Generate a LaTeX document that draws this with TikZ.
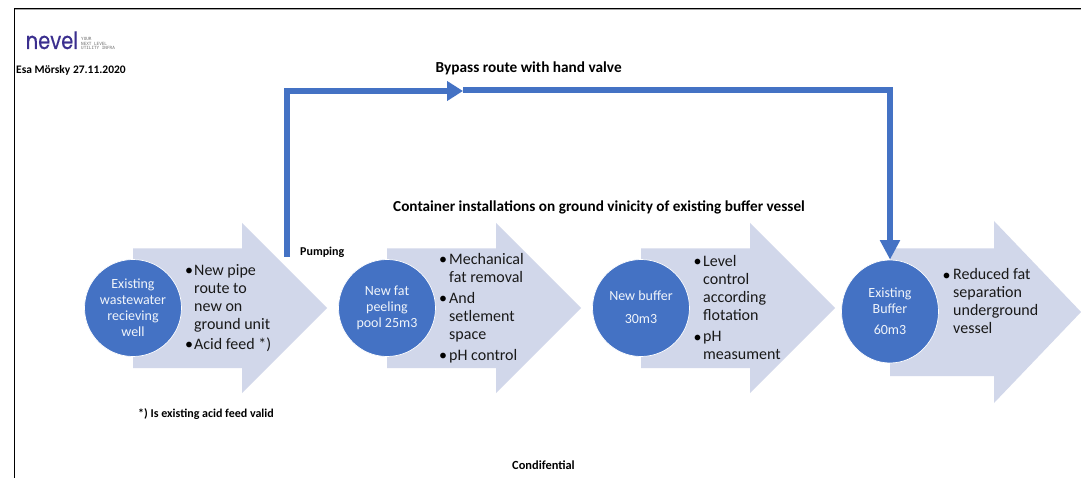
\documentclass[tikz,border=0pt]{standalone}
\usepackage{fontspec}
\setmainfont{Carlito}
\newfontfamily\logofont[FakeBold=0.5]{Poppins}
\newfontfamily\tagfont{DejaVu Sans Mono}
\usetikzlibrary{arrows.meta,shapes.geometric}
\definecolor{blueA}{HTML}{4472C4}
\definecolor{paleA}{HTML}{D1D7EA}
\definecolor{logoA}{HTML}{3B2F8F}
\tikzset{
  x=1pt,y=-1pt,
  flowarrow/.style={fill=paleA,draw=none},
  stage/.style={circle,fill=blueA,draw=white,line width=0.7pt,minimum size=97pt,inner sep=0pt},
  stagetall/.style={ellipse,fill=blueA,draw=white,line width=0.7pt,minimum width=97pt,minimum height=103pt,inner sep=0pt},
  stagetext/.style={anchor=base,inner sep=0pt,text=white!92!blueA,align=center,font=\fontsize{14}{16}\selectfont},
  bodytext/.style={anchor=base west,inner sep=0pt,align=left,text=black!90,font=\fontsize{16}{18}\selectfont},
  bullettext/.style={anchor=base west,inner sep=0pt,text=black,font=\fontsize{16}{18}\selectfont},
  label/.style={anchor=base west,inner sep=0pt,text=black,font=\bfseries\fontsize{#1}{#1}\selectfont},
  label/.default=10,
  pipe/.style={draw=blueA,line width=6pt,line join=miter},
}
\newcommand{\blockarrow}[8]{% x0 xh xtip ybodytop ybodybot yheadtop yheadbot ymid
  \fill[flowarrow] (#1,#4) -- (#2,#4) -- (#2,#6) -- (#3,#8) -- (#2,#7) -- (#2,#5) -- (#1,#5) -- cycle;
}
\newcommand{\bulletitem}[6]{% name xbullet xtext yfirst ylast text
  \node[bullettext] (#1b) at (#2,#4) {•};
  \node[bodytext] (#1) at (#3,#5) {#6};
}
\begin{document}
\begin{tikzpicture}
\useasboundingbox (0,0) rectangle (1081,478);
\fill[white] (0,0) rectangle (1081,478);
% frame
\draw[black,line width=1pt] (1081,8.7) -- (14,8.7) -- (14,478);
\draw[black!35,line width=0.6pt] (15,9.6) -- (1081,9.6);
% logo
\node[anchor=base west,inner sep=0pt,text=logoA,font=\logofont\fontsize{19.5}{19.5}\selectfont] (logo) at (25.5,49) {\scalebox{1}[1.22]{nevel}};
\node[anchor=north west,inner sep=0pt,align=left,text=black!55,font=\tagfont\fontsize{4.3}{4.7}\selectfont] (tag) at (81,37) {YOUR\\NEXT LEVEL\\UTILITY INFRA};
\node[label=11.5] (author) at (16,74) {Esa Mörsky 27.11.2020};
% block arrows
\blockarrow{133}{242}{327}{248.5}{368}{223}{393}{308}
\blockarrow{387}{496}{581}{248.5}{368}{223}{393}{308}
\blockarrow{641}{750}{835}{248.5}{368}{223}{393}{308}
\blockarrow{890}{994}{1081}{248.5}{376}{221}{403}{312}
% stages
\node[stage] (s1) at (133,308) {};
\node[stage] (s2) at (387,308) {};
\node[stage] (s3) at (641,308) {};
\node[stagetall] (s4) at (890,311.5) {};
\node[stagetext] (t1) at (133,336) {Existing\\wastewater\\recieving\\well};
\node[stagetext] (t2) at (387,327) {New fat\\peeling\\pool 25m3};
\node[stagetext] (t3a) at (641,301) {New buffer};
\node[stagetext] (t3b) at (641,323) {30m3};
\node[stagetext] (t4a) at (890,313) {Existing\\Buffer};
\node[stagetext] (t4b) at (890,334) {60m3};
% bullets
\bulletitem{a1}{185}{194}{275.5}{329}{New pipe\\route to\\new on\\ground unit}
\bulletitem{a2}{185}{194}{349}{349}{Acid feed *)}
\bulletitem{b1}{439}{449}{265}{283}{Mechanical\\fat removal}
\bulletitem{b2}{439}{449}{303}{339}{And\\setlement\\space}
\bulletitem{b3}{439}{449}{360}{360}{pH control}
\bulletitem{c1}{693.5}{703}{267}{320.5}{Level\\control\\according\\flotation}
\bulletitem{c2}{693.5}{703}{342}{359.5}{pH\\measument}
\bulletitem{d1}{942.5}{953}{280}{333.5}{Reduced fat\\separation\\underground\\vessel}
% bypass
\coordinate (pumpstart) at (286.5,257);
\coordinate (bend1) at (286.5,91);
\coordinate (valve) at (463,91);
\coordinate (valveb) at (463,90);
\coordinate (bend2) at (890,90);
\draw[pipe,-{Triangle[length=16pt,width=19pt]}] (pumpstart) -- (bend1) -- (valve);
\draw[pipe,-{Triangle[length=19.5pt,width=19pt]}] (valveb) -- (bend2) -- (s4.north);
% labels
\node[label=15.3] (bypass) at (435.5,73) {Bypass route with hand valve};
\node[label=15.25] (cont) at (393,211.5) {Container installations on ground vinicity of existing buffer vessel};
\node[label=12] (pump) at (300,255) {Pumping};
\node[label=12] (note) at (138,417.5) {*) Is existing acid feed valid};
\node[label=12.4] (conf) at (512,469) {Condifential};
\end{tikzpicture}
\end{document}
